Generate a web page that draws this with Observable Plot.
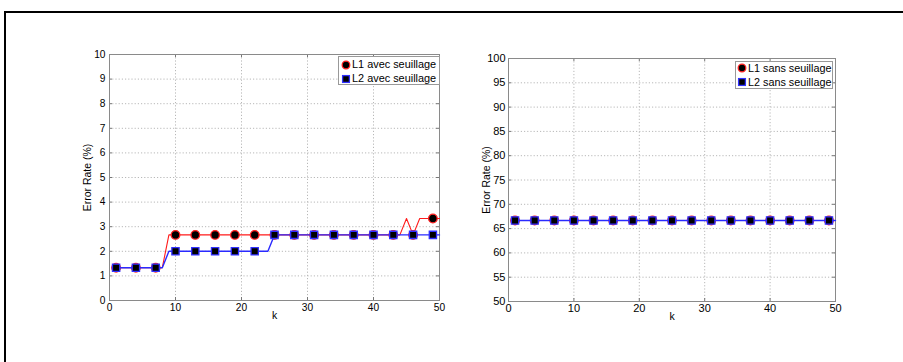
<!DOCTYPE html>
<html>
<head>
<meta charset="utf-8">
<script src="https://cdn.jsdelivr.net/npm/d3@7"></script>
<script src="https://cdn.jsdelivr.net/npm/@observablehq/plot@0.6"></script>
<style>
  html, body { margin: 0; padding: 0; background: #fff; }
  #wrap { position: relative; width: 903px; height: 362px; overflow: hidden; font-family: "Liberation Sans", Arial, sans-serif; }
  #border { position: absolute; left: 4px; top: 11px; width: 920px; height: 400px; border-top: 2px solid #000; border-left: 2px solid #000; }
  .panel { position: absolute; top: 0; }
  .legend { position: absolute; background: #fff; border: 1px solid #999; box-sizing: border-box; }
  .legend .row { position: absolute; left: 0; white-space: nowrap; color: #000; }
  .legend svg { position: absolute; overflow: visible; }
</style>
</head>
<body>
<div id="wrap">
  <div id="border"></div>
</div>
<script>
// ---------- data ----------
const k = [1,2,3,4,5,6,7,8,9,10,11,12,13,14,15,16,17,18,19,20,21,22,23,24,25,
           26,27,28,29,30,31,32,33,34,35,36,37,38,39,40,41,42,43,44,45,46,47,48,49,50];
// Left panel: with thresholding (avec seuillage)
const l1Avec = [1.333,1.333,1.333,1.333,1.333,1.333,1.333,1.333,2.667,2.667,
                2.667,2.667,2.667,2.667,2.667,2.667,2.667,2.667,2.667,2.667,
                2.667,2.667,2.667,2.667,2.667,2.667,2.667,2.667,2.667,2.667,
                2.667,2.667,2.667,2.667,2.667,2.667,2.667,2.667,2.667,2.667,
                2.667,2.667,2.667,2.667,3.333,2.667,3.333,3.333,3.333,3.333];
const l2Avec = [1.333,1.333,1.333,1.333,1.333,1.333,1.333,1.333,2.000,2.000,
                2.000,2.000,2.000,2.000,2.000,2.000,2.000,2.000,2.000,2.000,
                2.000,2.000,2.000,2.000,2.667,2.667,2.667,2.667,2.667,2.667,
                2.667,2.667,2.667,2.667,2.667,2.667,2.667,2.667,2.667,2.667,
                2.667,2.667,2.667,2.667,2.667,2.667,2.667,2.667,2.667,2.667];
// Right panel: without thresholding (sans seuillage)
const l1Sans = [66.67,66.67,66.67,66.67,66.67,66.67,66.67,66.67,66.67,66.67,
                66.67,66.67,66.67,66.67,66.67,66.67,66.67,66.67,66.67,66.67,
                66.67,66.67,66.67,66.67,66.67,66.67,66.67,66.67,66.67,66.67,
                66.67,66.67,66.67,66.67,66.67,66.67,66.67,66.67,66.67,66.67,
                66.67,66.67,66.67,66.67,66.67,66.67,66.67,66.67,66.67,66.67];
const l2Sans = [66.67,66.67,66.67,66.67,66.67,66.67,66.67,66.67,66.67,66.67,
                66.67,66.67,66.67,66.67,66.67,66.67,66.67,66.67,66.67,66.67,
                66.67,66.67,66.67,66.67,66.67,66.67,66.67,66.67,66.67,66.67,
                66.67,66.67,66.67,66.67,66.67,66.67,66.67,66.67,66.67,66.67,
                66.67,66.67,66.67,66.67,66.67,66.67,66.67,66.67,66.67,66.67];
const markerK = [1,4,7,10,13,16,19,22,25,28,31,34,37,40,43,46,49];
const xTicks = [0,10,20,30,40,50];
const yTicksLeft = [0,1,2,3,4,5,6,7,8,9,10];
const yTicksRight = [50,55,60,65,70,75,80,85,90,95,100];
const legendLeft = ["L1 avec seuillage", "L2 avec seuillage"];
const legendRight = ["L1 sans seuillage", "L2 sans seuillage"];
const xLabel = "k";
const yLabel = "Error Rate (%)";

// ---------- helpers ----------
function rows(ys) { return k.map((kk, i) => ({k: kk, v: ys[i]})); }
function markerRows(ys) { return markerK.map(kk => ({k: kk, v: ys[k.indexOf(kk)]})); }

function panel({l1, l2, yDomain, yTicks, width, mL, mR, mT, mB, tickFont, yPad}) {
  const H = 362 - mT - mB;
  const W = width - mL - mR;
  const r1 = rows(l1), r2 = rows(l2);
  const grid = {stroke: "#b8b8b8", strokeOpacity: 1, strokeDasharray: "1.2,2"};
  return Plot.plot({
    width, height: 362,
    marginLeft: mL, marginRight: mR, marginTop: mT, marginBottom: mB,
    style: {fontFamily: "'Liberation Sans', Arial, sans-serif", fontSize: tickFont + "px", color: "#000", background: "transparent", overflow: "visible"},
    x: {domain: [0, 50]},
    y: {domain: yDomain},
    marks: [
      Plot.gridX(xTicks.slice(1, -1), grid),
      Plot.gridY(yTicks.slice(1, -1), grid),
      Plot.ruleX(xTicks, {stroke: "#777", insetTop: H - 3}),
      Plot.ruleX(xTicks, {stroke: "#777", insetBottom: H - 3}),
      Plot.ruleY(yTicks, {stroke: "#777", insetRight: W - 3}),
      Plot.ruleY(yTicks, {stroke: "#777", insetLeft: W - 3}),
      Plot.frame({stroke: "#8a8a8a"}),
      Plot.axisX(xTicks, {tickSize: 0, tickPadding: 3, label: null, fill: "#000", fontSize: tickFont}),
      Plot.axisY(yTicks, {tickSize: 0, tickPadding: yPad, label: null, fill: "#000", fontSize: tickFont}),
      Plot.text([xLabel], {frameAnchor: "bottom", dy: 18, fontSize: 10.5, fill: "#000"}),
      Plot.text([yLabel], {frameAnchor: "left", textAnchor: "middle", dx: -22, rotate: -90, fontSize: 10.5, fill: "#000"}),
      Plot.line(r1, {x: "k", y: "v", stroke: "#ff1a1a", strokeWidth: 1.1}),
      Plot.dot(markerRows(l1), {x: "k", y: "v", r: 4.3, symbol: "circle", fill: "#000", stroke: "#ff2020", strokeWidth: 1.3}),
      Plot.line(r2, {x: "k", y: "v", stroke: "#2a2aff", strokeWidth: 1.4}),
      Plot.dot(markerRows(l2), {x: "k", y: "v", r: 4.1, symbol: "square", fill: "#000", stroke: "#3030ff", strokeWidth: 1.3})
    ]
  });
}

function legend(labels, {left, top, width, height, mx, tx, rowsY, font}) {
  const d = document.createElement("div");
  d.className = "legend";
  Object.assign(d.style, {left: left + "px", top: top + "px", width: width + "px", height: height + "px"});
  labels.forEach((lab, i) => {
    const cy = rowsY[i];
    const ns = "http://www.w3.org/2000/svg";
    const svg = document.createElementNS(ns, "svg");
    svg.setAttribute("width", 10); svg.setAttribute("height", 10);
    svg.style.left = (mx - 5) + "px"; svg.style.top = (cy - 5) + "px";
    let shape;
    if (i === 0) {
      shape = document.createElementNS(ns, "circle");
      shape.setAttribute("cx", 5); shape.setAttribute("cy", 5); shape.setAttribute("r", 3.8);
      shape.setAttribute("stroke", "#ff2020");
    } else {
      shape = document.createElementNS(ns, "rect");
      shape.setAttribute("x", 1.6); shape.setAttribute("y", 1.6); shape.setAttribute("width", 6.8); shape.setAttribute("height", 6.8);
      shape.setAttribute("stroke", "#3030ff");
    }
    shape.setAttribute("fill", "#000"); shape.setAttribute("stroke-width", 1.3);
    svg.appendChild(shape);
    d.appendChild(svg);
    const t = document.createElement("div");
    t.className = "row";
    t.textContent = lab;
    Object.assign(t.style, {left: tx + "px", top: (cy - font * 0.6) + "px", fontSize: font + "px", lineHeight: (font * 1.2) + "px"});
    d.appendChild(t);
  });
  return d;
}

const wrap = document.getElementById("wrap");

const left = panel({l1: l1Avec, l2: l2Avec, yDomain: [0, 10], yTicks: yTicksLeft, width: 460, mL: 109, mR: 21, mT: 54, mB: 62, tickFont: 10.2, yPad: 4});
left.classList.add("panel"); left.style.left = "0px";
wrap.appendChild(left);

const right = panel({l1: l1Sans, l2: l2Sans, yDomain: [50, 100], yTicks: yTicksRight, width: 443, mL: 48, mR: 68, mT: 58, mB: 61, tickFont: 11, yPad: 3});
right.classList.add("panel"); right.style.left = "460px";
wrap.appendChild(right);

wrap.appendChild(legend(legendLeft, {left: 338, top: 56, width: 102, height: 29, mx: 7, tx: 13, rowsY: [7.5, 21.5], font: 10.9}));
wrap.appendChild(legend(legendRight, {left: 735, top: 61, width: 98, height: 28, mx: 6, tx: 12, rowsY: [6, 20], font: 10.8}));
</script>
</body>
</html>
